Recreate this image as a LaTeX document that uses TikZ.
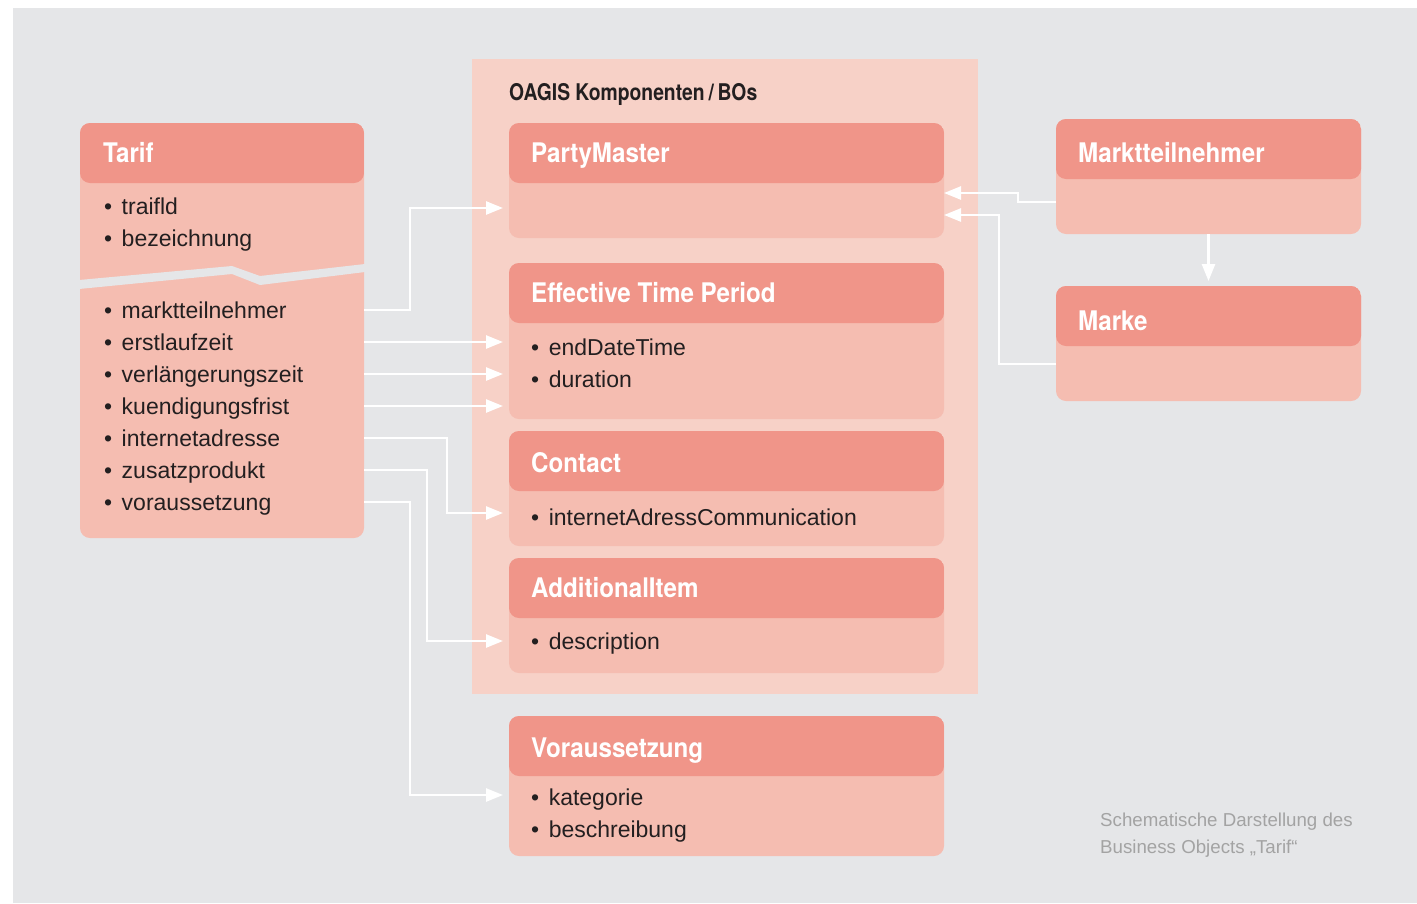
\documentclass[tikz,border=0pt]{standalone}
\usepackage{fontspec}
\setmainfont{Liberation Sans}
\newfontfamily\hfont[FakeStretch=0.895]{TeX Gyre Heros}
\newfontfamily\tfont[FakeStretch=0.84]{TeX Gyre Heros}
\usetikzlibrary{arrows.meta,calc}
\definecolor{bgc}{HTML}{E5E6E8}
\definecolor{headc}{HTML}{F09589}
\definecolor{bodyc}{HTML}{F5BDB1}
\definecolor{contc}{HTML}{F7D1C7}
\definecolor{txtc}{HTML}{231F20}
\definecolor{capc}{HTML}{A3A3A3}
\newcommand\bul{•\hspace{9.5pt}}
\begin{document}
\begin{tikzpicture}[x=1pt,y=-1pt,
  umlbox/.style={fill=bodyc, rounded corners=10pt, inner sep=0pt, outer sep=0pt, anchor=north west,
    path picture={\fill[headc] (path picture bounding box.north west) rectangle ([yshift=-60pt]path picture bounding box.north east);}},
  headtxt/.style={anchor=base west, inner sep=0pt, text=white, font=\hfont\bfseries\fontsize{27}{30}\selectfont},
  itm/.style={anchor=west, inner sep=0pt, text height=16pt, text depth=0pt, text=txtc, font=\fontsize{23}{26}\selectfont},
  captxt/.style={anchor=base west, inner sep=0pt, text=capc, font=\fontsize{18.7}{27}\selectfont},
  conn/.style={draw=white, line width=2.6pt, -{Triangle[length=17pt,width=13pt]}}
]
% background
\fill[white] (0,0) rectangle (1417,903);
\fill[bgc] (13,8) rectangle (1417,903);

% OAGIS container
\node[fill=contc, inner sep=0pt, outer sep=0pt, anchor=north west, minimum width=506pt, minimum height=635pt] (oagis) at (472,59) {};
\node[anchor=base west, inner sep=0pt, text=txtc, font=\tfont\bfseries\fontsize{23}{26}\selectfont] (oagist) at (509,100) {OAGIS Komponenten\,/\,BOs};

% boxes
\node[umlbox, minimum width=284pt, minimum height=415pt] (tarif) at (80,123) {};
\node[umlbox, minimum width=435pt, minimum height=115pt] (pm) at (509,123) {};
\node[umlbox, minimum width=435pt, minimum height=156pt] (etp) at (509,263) {};
\node[umlbox, minimum width=435pt, minimum height=115pt] (contact) at (509,431) {};
\node[umlbox, minimum width=435pt, minimum height=115pt] (addit) at (509,558) {};
\node[umlbox, minimum width=435pt, minimum height=140pt] (vor) at (509,716) {};
\node[umlbox, minimum width=305pt, minimum height=115pt] (mt) at (1056,119) {};
\node[umlbox, minimum width=305pt, minimum height=115pt] (marke) at (1056,286) {};

% split band in Tarif
\fill[bgc] (79,280) -- (232,266) -- (260,276) -- (365,264) -- (365,272) -- (260,285) -- (232,274) -- (79,289) -- cycle;

% header texts
\node[headtxt] (tarift) at (103,162) {Tarif};
\node[headtxt] (pmt) at (531,162) {PartyMaster};
\node[headtxt] (etpt) at (531,302) {Effective Time Period};
\node[headtxt] (contactt) at (531,472) {Contact};
\node[headtxt] (additt) at (531,597) {AdditionalItem};
\node[headtxt] (vort) at (531,757) {Voraussetzung};
\node[headtxt] (mtt) at (1078,162) {Marktteilnehmer};
\node[headtxt] (market) at (1078,330) {Marke};

% Tarif items
\node[itm] (t1) at (104,206) {\bul traifld};
\node[itm] (t2) at (104,238) {\bul bezeichnung};
\node[itm] (t3) at (104,310) {\bul marktteilnehmer};
\node[itm] (t4) at (104,342) {\bul erstlaufzeit};
\node[itm] (t5) at (104,374) {\bul verlängerungszeit};
\node[itm] (t6) at (104,406) {\bul kuendigungsfrist};
\node[itm] (t7) at (104,438) {\bul internetadresse};
\node[itm] (t8) at (104,470) {\bul zusatzprodukt};
\node[itm] (t9) at (104,502) {\bul voraussetzung};

% other items
\node[itm] (e1) at (531,347) {\bul endDateTime};
\node[itm] (e2) at (531,379) {\bul duration};
\node[itm] (c1) at (531,517) {\bul internetAdressCommunication};
\node[itm] (a1) at (531,641) {\bul description};
\node[itm] (v1) at (531,797) {\bul kategorie};
\node[itm] (v2) at (531,829) {\bul beschreibung};

% caption
\node[captxt] (cap1) at (1100,826) {Schematische Darstellung des};
\node[captxt] (cap2) at (1100,853) {Business Objects „Tarif“};

% connectors
\draw[conn, shorten >=6pt] (tarif.east |- t3) -- ++(46,0) |- ([yshift=-27.5pt]pm.west);
\draw[conn, shorten >=6pt] (tarif.east |- t4) -- (etp.west |- t4);
\draw[conn, shorten >=6pt] (tarif.east |- t5) -- (etp.west |- t5);
\draw[conn, shorten >=6pt] (tarif.east |- t6) -- (etp.west |- t6);
\draw[conn, shorten >=6pt] (tarif.east |- t7) -- ++(83,0) |- ([yshift=-24.5pt]contact.west);
\draw[conn, shorten >=6pt] (tarif.east |- t8) -- ++(63,0) |- (addit.west |- a1);
\draw[conn, shorten >=6pt] (tarif.east |- t9) -- ++(46,0) |- ([yshift=2pt]vor.west |- v1);
\draw[conn] ([yshift=-25.5pt]mt.west) -- ++(-38,0) |- ([yshift=-12.5pt]pm.east);
\draw[conn] ([yshift=-20.5pt]marke.west) -- ++(-57,0) |- ([yshift=-34.5pt]pm.east);
\draw[conn, shorten >=5pt] (mt.south) -- (marke.north);
\end{tikzpicture}
\end{document}
